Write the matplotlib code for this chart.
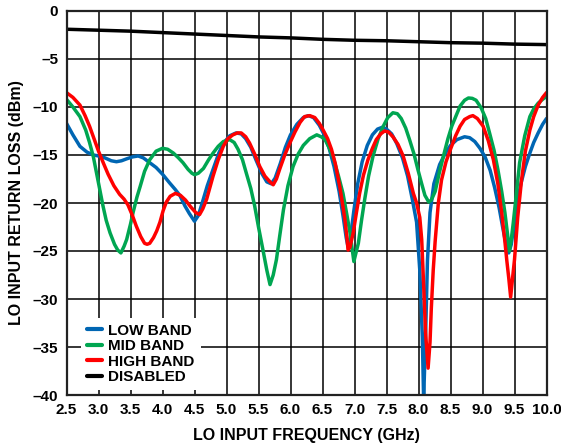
import matplotlib
matplotlib.use("Agg")
import matplotlib.pyplot as plt
import numpy as np

plt.rcParams['font.family'] = ['Liberation Sans', 'DejaVu Sans']

low_x = [2.5, 2.6, 2.71, 2.82, 2.92, 3.0, 3.1, 3.2, 3.28, 3.36, 3.44, 3.53, 3.62, 3.7, 3.78, 3.9, 4.0, 4.11, 4.2, 4.27,
         4.35, 4.42, 4.5, 4.56, 4.62, 4.7, 4.79, 4.88, 4.95, 5.05, 5.15, 5.23, 5.3, 5.38, 5.46, 5.55, 5.63, 5.7, 5.76,
         5.84, 5.92, 6.0, 6.1, 6.2, 6.28, 6.36, 6.45, 6.52, 6.6, 6.68, 6.76, 6.82, 6.87, 6.9, 6.94, 6.99, 7.05, 7.12,
         7.2, 7.28, 7.36, 7.44, 7.5, 7.58, 7.66, 7.75, 7.83, 7.9, 7.97, 8.02, 8.06, 8.08, 8.11, 8.14, 8.18, 8.24, 8.33,
         8.42, 8.5, 8.6, 8.72, 8.8, 8.88, 8.96, 9.04, 9.12, 9.19, 9.26, 9.32, 9.37, 9.41, 9.45, 9.49, 9.54, 9.6, 9.67,
         9.74, 9.8, 9.87, 9.94, 10.0]
low_y = [-11.7, -12.9, -14.1, -14.7, -15.0, -15.1, -15.3, -15.6, -15.7, -15.6, -15.4, -15.2, -15.1, -15.3, -15.7, -16.3,
         -17.0, -17.9, -18.6, -19.2, -20.3, -21.1, -21.9, -21.3, -20.0, -18.2, -16.5, -14.8, -13.8, -13.0, -12.7, -12.8,
         -13.3, -14.2, -15.5, -16.9, -17.8, -18.0, -17.4, -15.9, -14.2, -12.9, -11.8, -11.1, -10.9, -11.1, -11.9, -12.8,
         -14.2, -16.2, -18.8, -21.3, -23.6, -24.6, -23.4, -20.8, -18.0, -15.7, -14.0, -12.9, -12.3, -12.1, -12.3, -12.8,
         -13.8, -15.3, -17.2, -19.5, -22.0, -27.0, -34.0, -40.5, -34.0, -26.0, -21.0, -18.0, -16.0, -14.8, -14.0, -13.4,
         -13.1, -13.2, -13.6, -14.3, -15.2, -16.6, -18.4, -20.5, -22.7, -24.4, -25.2, -24.3, -22.3, -20.0, -18.0, -16.2,
         -14.8, -13.7, -12.7, -11.8, -11.2]

mid_x = [2.5, 2.6, 2.71, 2.8, 2.86, 2.92, 2.97, 3.02, 3.07, 3.12, 3.18, 3.25, 3.3, 3.35, 3.4, 3.44, 3.5, 3.54, 3.6, 3.65,
         3.72, 3.8, 3.9, 4.0, 4.08, 4.17, 4.25, 4.32, 4.4, 4.46, 4.5, 4.56, 4.64, 4.72, 4.79, 4.87, 4.95, 5.05, 5.12,
         5.18, 5.25, 5.31, 5.38, 5.44, 5.5, 5.57, 5.63, 5.68, 5.73, 5.78, 5.83, 5.89, 5.96, 6.04, 6.12, 6.2, 6.3, 6.41,
         6.48, 6.54, 6.6, 6.67, 6.75, 6.82, 6.88, 6.93, 6.99, 7.03, 7.06, 7.11, 7.16, 7.22, 7.29, 7.37, 7.45, 7.52, 7.6,
         7.67, 7.73, 7.8, 7.86, 7.93, 7.99, 8.05, 8.1, 8.16, 8.2, 8.26, 8.32, 8.39, 8.46, 8.52, 8.6, 8.65, 8.72, 8.78,
         8.84, 8.9, 8.98, 9.05, 9.11, 9.18, 9.24, 9.3, 9.35, 9.39, 9.42, 9.45, 9.48, 9.53, 9.58, 9.66, 9.74, 9.8, 9.87,
         9.94, 10.0]
mid_y = [-9.2, -10.0, -11.0, -12.4, -13.7, -15.2, -16.9, -18.6, -20.3, -21.8, -23.1, -24.3, -24.9, -25.2, -24.5, -23.8,
         -22.2, -21.0, -19.4, -18.3, -16.7, -15.5, -14.6, -14.3, -14.4, -14.8, -15.3, -15.8, -16.5, -16.9, -17.05, -16.9,
         -16.4, -15.5, -14.8, -14.1, -13.6, -13.4, -13.7, -14.4, -15.5, -16.9, -18.5, -20.3, -22.5, -24.9, -27.0, -28.5,
         -27.5, -25.9, -23.5, -20.7, -18.2, -16.2, -14.9, -14.0, -13.3, -12.9, -13.1, -13.4, -14.2, -15.3, -17.2, -19.0,
         -21.2, -23.1, -26.1, -25.0, -24.2, -21.8, -19.6, -17.2, -15.1, -13.3, -12.0, -11.1, -10.6, -10.7, -11.2, -12.2,
         -13.4, -14.9, -16.5, -18.0, -19.2, -19.9, -19.7, -18.8, -17.0, -15.1, -13.3, -12.0, -10.7, -9.9, -9.3, -9.06,
         -9.1, -9.3, -10.1, -11.2, -12.7, -14.5, -16.5, -18.8, -21.0, -23.2, -25.0, -23.8, -22.1, -19.0, -15.8, -13.0,
         -11.0, -10.2, -9.6, -9.2, -8.9]

high_x = [2.5, 2.6, 2.71, 2.79, 2.86, 2.93, 3.0, 3.08, 3.15, 3.24, 3.33, 3.4, 3.46, 3.53, 3.59, 3.66, 3.72, 3.76, 3.8,
          3.86, 3.91, 3.96, 4.01, 4.06, 4.12, 4.2, 4.28, 4.36, 4.44, 4.52, 4.58, 4.63, 4.69, 4.79, 4.87, 4.95, 5.02,
          5.1, 5.17, 5.23, 5.3, 5.36, 5.44, 5.52, 5.6, 5.68, 5.73, 5.78, 5.83, 5.91, 5.99, 6.07, 6.15, 6.22, 6.3, 6.38,
          6.45, 6.51, 6.58, 6.64, 6.7, 6.77, 6.82, 6.85, 6.88, 6.9, 6.93, 6.98, 7.03, 7.08, 7.14, 7.21, 7.28, 7.34,
          7.41, 7.47, 7.53, 7.6, 7.68, 7.76, 7.84, 7.92, 7.97, 8.02, 8.05, 8.08, 8.11, 8.15, 8.18, 8.2, 8.23, 8.26,
          8.31, 8.36, 8.43, 8.5, 8.58, 8.65, 8.72, 8.8, 8.85, 8.92, 9.01, 9.09, 9.17, 9.24, 9.3, 9.35, 9.38, 9.41,
          9.44, 9.47, 9.5, 9.55, 9.61, 9.67, 9.74, 9.8, 9.87, 9.94, 10.0]
high_y = [-8.5, -9.0, -9.8, -10.9, -12.0, -13.3, -14.6, -15.9, -17.0, -18.2, -19.1, -19.6, -20.2, -21.3, -22.4, -23.5,
          -24.2, -24.3, -24.2, -23.6, -22.9, -22.0, -20.8, -19.9, -19.3, -19.0, -19.2, -19.7, -20.4, -21.0, -21.2, -20.6,
          -19.6, -17.2, -15.5, -14.1, -13.3, -12.9, -12.7, -12.7, -13.1, -13.75, -14.9, -16.2, -17.2, -17.8, -18.1,
          -17.5, -16.5, -15.0, -13.75, -12.6, -11.6, -11.0, -10.9, -11.1, -11.7, -12.4, -13.3, -14.4, -15.9, -18.3,
          -20.4, -21.7, -23.5, -24.9, -24.6, -23.1, -21.0, -19.0, -17.1, -15.5, -14.3, -13.4, -12.8, -12.5, -12.6,
          -13.1, -13.9, -15.1, -16.9, -19.0, -20.0, -21.5, -23.8, -28.5, -33.5, -37.2, -34.5, -31.0, -27.0, -24.0,
          -20.0, -17.6, -15.7, -14.4, -13.0, -12.0, -11.3, -11.0, -10.9, -11.2, -12.0, -13.5, -15.5, -18.0, -21.0,
          -24.0, -26.0, -27.8, -29.8, -27.8, -25.9, -21.5, -17.6, -14.6, -12.4, -11.0, -9.8, -9.0, -8.5]

dis_x = [2.5, 3.0, 3.5, 4.0, 4.5, 5.0, 5.5, 6.0, 6.5, 7.0, 7.5, 8.0, 8.5, 9.0, 9.5, 10.0]
dis_y = [-1.9, -2.0, -2.1, -2.25, -2.4, -2.55, -2.7, -2.8, -2.95, -3.05, -3.1, -3.2, -3.3, -3.35, -3.45, -3.5]

labels = ["LOW BAND", "MID BAND", "HIGH BAND", "DISABLED"]
colors = ["#0066B3", "#00A651", "#FF0000", "#000000"]

xticks = [2.5, 3.0, 3.5, 4.0, 4.5, 5.0, 5.5, 6.0, 6.5, 7.0, 7.5, 8.0, 8.5, 9.0, 9.5, 10.0]
yticks = [0, -5, -10, -15, -20, -25, -30, -35, -40]

fig = plt.figure(figsize=(5.61, 4.46), dpi=100)
ax = fig.add_axes([66.5 / 561, 51 / 446, 480 / 561, 384 / 446])

series = [(low_x, low_y), (mid_x, mid_y), (high_x, high_y), (dis_x, dis_y)]
for (xs, ys), lab, col in zip(series, labels, colors):
    ax.plot(xs, ys, color=col, lw=2.5, label=lab, solid_joinstyle='round', solid_capstyle='round')

ax.set_xlim(2.5, 10.0)
ax.set_ylim(-40, 0)
ax.set_xticks(xticks)
ax.set_xticklabels([f"{v:.1f}" for v in xticks])
ax.set_yticks(yticks)
ax.set_yticklabels([str(v).replace('-', '\u2013') for v in yticks])
ax.grid(True, color='black', lw=1.1)
ax.set_axisbelow(True)
ax.tick_params(length=0, labelsize=11, pad=6)
for lab in ax.get_xticklabels() + ax.get_yticklabels():
    lab.set_fontweight('bold')
for sp in ax.spines.values():
    sp.set_linewidth(1.6)
    sp.set_color('#222222')

ax.set_xlabel("LO INPUT FREQUENCY (GHz)", fontsize=11.5, fontweight='bold', labelpad=8)
ax.set_ylabel("LO INPUT RETURN LOSS (dBm)", fontsize=11.5, fontweight='bold', labelpad=6)

leg = ax.legend(loc='lower left', bbox_to_anchor=(0.02, 0.0), frameon=True, facecolor='white',
                edgecolor='none', framealpha=1, fancybox=False, prop={'weight': 'bold', 'size': 11},
                handlelength=1.0, handletextpad=0.4, labelspacing=0.1, borderpad=0.4, borderaxespad=0.3)
for h in leg.get_lines():
    h.set_linewidth(3)

fig.savefig("out.png", dpi=100)
